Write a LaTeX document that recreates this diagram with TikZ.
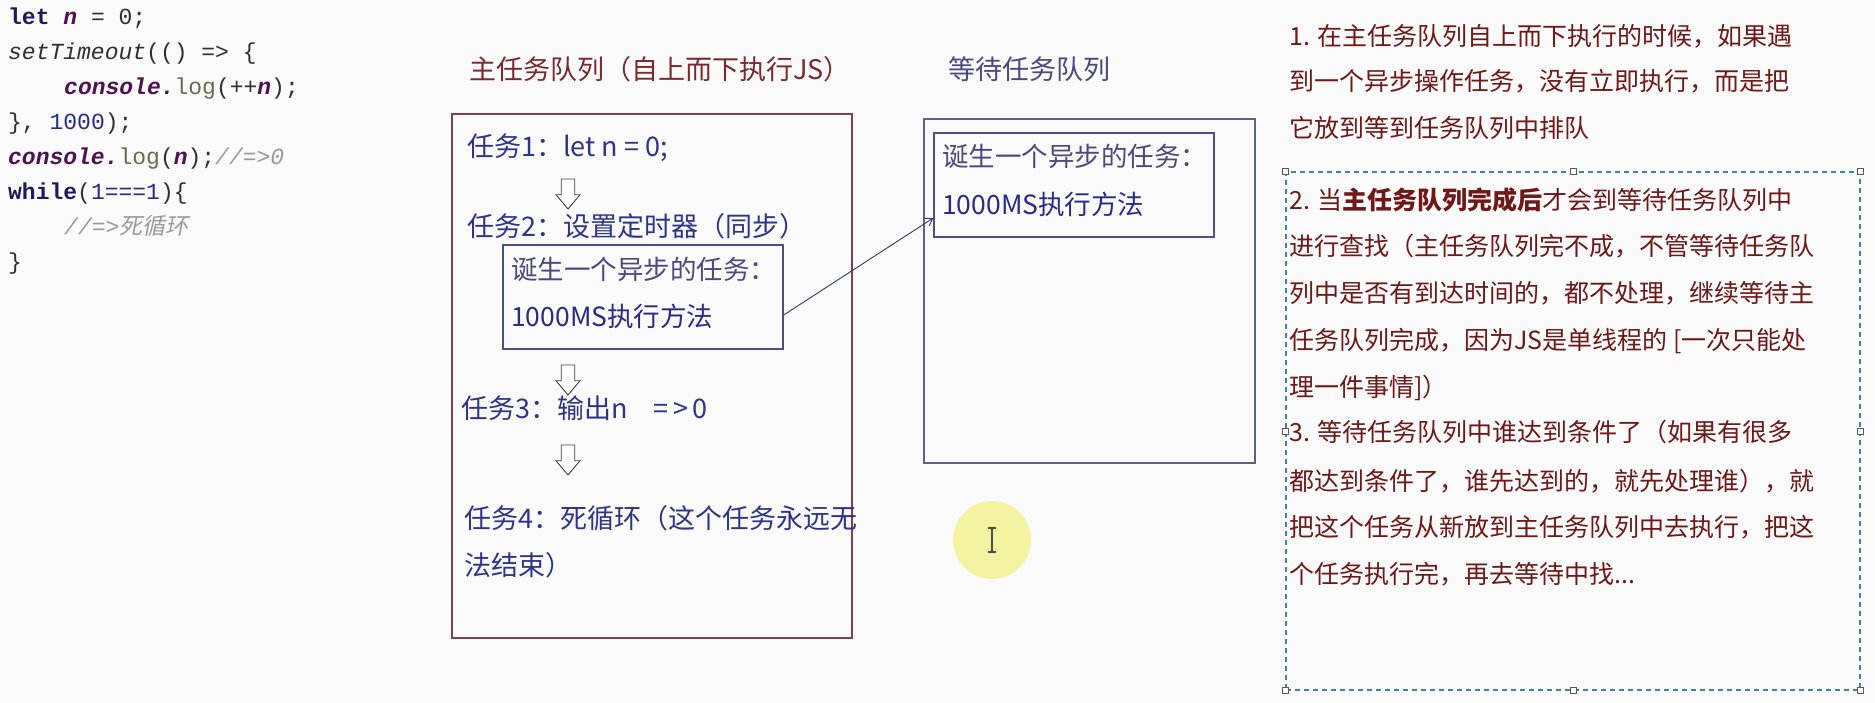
\documentclass[tikz,border=0pt]{standalone}
\usepackage{fontspec}
\usetikzlibrary{arrows.meta,shapes.arrows}
\newfontfamily\cjk{Noto Sans CJK SC}
\newfontfamily\cjkslant{Noto Sans CJK SC}[FakeSlant=0.2]
\newfontfamily\codefont{Liberation Mono}

\definecolor{pagebg}{HTML}{FAFAFA}
\definecolor{maroontxt}{HTML}{7A2A2E}
\definecolor{notetxt}{HTML}{6E1818}
\definecolor{tasktxt}{HTML}{2E3588}
\definecolor{slatetxt}{HTML}{4A4A7E}
\definecolor{mainborder}{HTML}{7D4050}
\definecolor{waitborder}{HTML}{60608E}
\definecolor{innerborder}{HTML}{4E4E88}
\definecolor{dashcol}{HTML}{3F84A8}
\definecolor{kwnavy}{HTML}{1C1C5C}
\definecolor{varpurple}{HTML}{4E1250}
\definecolor{logcol}{HTML}{6A6A4E}
\definecolor{numcol}{HTML}{2A2A8A}
\definecolor{codetxt}{HTML}{303030}
\definecolor{cmtgray}{HTML}{9A9A9A}
\definecolor{linkcol}{HTML}{34346C}
\definecolor{cursorbg}{HTML}{F4F3A2}

\tikzset{
  codeline/.style={anchor=base west, inner sep=0pt, font=\codefont\fontsize{23pt}{35pt}\selectfont, text=codetxt},
  midtxt/.style={anchor=base west, inner sep=0pt, font=\cjk\fontsize{27pt}{47pt}\selectfont},
  boxtxt/.style={anchor=base west, inner sep=0pt, font=\cjk\fontsize{26.5pt}{47pt}\selectfont},
  notetext/.style={anchor=base west, inner sep=0pt, font=\cjk\fontsize{25pt}{46pt}\selectfont, text=notetxt},
  queuebox/.style={draw, line width=1.6pt, minimum width=#1, inner sep=0pt},
  taskbox/.style={draw=innerborder, line width=1.4pt, minimum width=280pt, minimum height=104pt, inner sep=0pt},
  flowarrow/.style={single arrow, draw=black!75, fill=white, line width=0.9pt,
    shape border rotate=270, minimum height=30pt, minimum width=24pt,
    inner sep=6pt, single arrow head extend=5pt, single arrow tip angle=80},
  handle/.style={draw=black!65, fill=white, line width=0.7pt, minimum size=6pt, inner sep=0pt},
}

\begin{document}
\begin{tikzpicture}[x=1pt, y=-1pt]
\fill[pagebg] (0,0) rectangle (1875,703);
\useasboundingbox (0,0) rectangle (1875,703);

% ---- source code ----
\node[codeline] (c1) at (8,25) {{\bfseries\color{kwnavy}let} {\bfseries\itshape\color{varpurple}n} = 0;};
\node[codeline] (c2) at (8,60) {{\itshape setTimeout}(() => \{};
\node[codeline] (c3) at (64,95) {{\bfseries\itshape\color{varpurple}console.}{\color{logcol}log}(++{\bfseries\itshape\color{varpurple}n});};
\node[codeline] (c4) at (8,130) {\}, {\color{numcol}1000});};
\node[codeline] (c5) at (8,165) {{\bfseries\itshape\color{varpurple}console.}{\color{logcol}log}({\bfseries\itshape\color{varpurple}n});{\itshape\color{cmtgray}//=>0}};
\node[codeline] (c6) at (8,200) {{\bfseries\color{kwnavy}while}({\color{numcol}1===1})\{};
\node[codeline] (c7) at (64,235) {{\itshape\color{cmtgray}//=>}{\cjkslant\color{cmtgray}死循环}};
\node[codeline] (c8) at (8,270) {\}};

% ---- main task queue ----
\node[midtxt, text=maroontxt] (maintitle) at (469,80) {主任务队列（自上而下执行JS）};
\node[queuebox=400pt, draw=mainborder, minimum height=524pt] (mainq) at (652,376) {};

\node[midtxt, text=tasktxt] (t1) at (467,157) {任务1：let n = 0;};
\node[flowarrow] (a1) at (568,190) {};
\node[midtxt, text=tasktxt] (t2) at (467,237) {任务2：设置定时器（同步）};
\node[taskbox] (birth) at (643,297) {};
\node[boxtxt, text=slatetxt] (b1) at (511,280) {诞生一个异步的任务：};
\node[boxtxt, text=numcol] (b2) at (511,327) {1000MS执行方法};
\node[flowarrow] (a2) at (568,376) {};
\node[midtxt, text=tasktxt] (t3) at (461,418) {任务3：输出n\hspace{26pt}=\,>\,0};
\node[flowarrow] (a3) at (568,456) {};
\node[midtxt, text=tasktxt] (t4a) at (464,528) {任务4：死循环（这个任务永远无};
\node[midtxt, text=tasktxt] (t4b) at (464,575) {法结束）};

% ---- waiting queue ----
\node[midtxt, text=slatetxt] (waittitle) at (948,80) {等待任务队列};
\node[queuebox=331pt, draw=waitborder, minimum height=344pt] (waitq) at (1089.5,291) {};
\node[taskbox] (wbirth) at (1074,185) {};
\node[boxtxt, text=slatetxt] (w1) at (942,167) {诞生一个异步的任务：};
\node[boxtxt, text=numcol] (w2) at (942,215) {1000MS执行方法};

\draw[linkcol, line width=0.9pt, -{Straight Barb[length=7pt,width=9pt]}]
  ([yshift=-18pt]birth.east) -- ([yshift=-33pt]wbirth.west);

% ---- pointer highlight ----
\node[circle, fill=cursorbg, minimum size=78pt, inner sep=0pt] (pointer) at (992,540) {};
\draw[black!70, line width=1.3pt] ([yshift=12pt]pointer.center) -- ([yshift=-12pt]pointer.center)
  ([xshift=-4pt,yshift=12pt]pointer.center) -- ([xshift=4pt,yshift=12pt]pointer.center)
  ([xshift=-4pt,yshift=-12pt]pointer.center) -- ([xshift=4pt,yshift=-12pt]pointer.center);

% ---- notes ----
\node[notetext] (n11) at (1289,46) {1. 在主任务队列自上而下执行的时候，如果遇};
\node[notetext] (n12) at (1289,91) {到一个异步操作任务，没有立即执行，而是把};
\node[notetext] (n13) at (1289,138) {它放到等到任务队列中排队};

\node[draw=dashcol, dashed, dash pattern=on 5pt off 4pt, line width=1.2pt,
      minimum width=574pt, minimum height=518pt, inner sep=0pt] (notebox) at (1573,431) {};
\foreach \a in {north west, north, north east, west, east, south west, south, south east}
  \node[handle] at (notebox.\a) {};

\node[notetext] (n21) at (1289,210) {2. 当{\bfseries 主任务队列完成后}才会到等待任务队列中};
\node[notetext] (n22) at (1289,256) {进行查找（主任务队列完不成，不管等待任务队};
\node[notetext] (n23) at (1289,303) {列中是否有到达时间的，都不处理，继续等待主};
\node[notetext] (n24) at (1289,350) {任务队列完成，因为JS是单线程的 [一次只能处};
\node[notetext] (n25) at (1289,396) {理一件事情]）};
\node[notetext] (n31) at (1289,441) {3. 等待任务队列中谁达到条件了（如果有很多};
\node[notetext] (n32) at (1289,490) {都达到条件了，谁先达到的，就先处理谁），就};
\node[notetext] (n33) at (1289,536) {把这个任务从新放到主任务队列中去执行，把这};
\node[notetext] (n34) at (1289,583) {个任务执行完，再去等待中找...};
\end{tikzpicture}
\end{document}
